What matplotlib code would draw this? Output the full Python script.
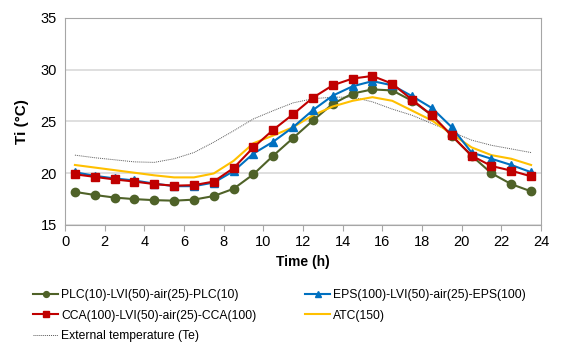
import numpy as np
from matplotlib import pyplot as plt

plt.rcParams['font.family'] = ['Liberation Sans', 'DejaVu Sans']

hours = [0.5, 1.5, 2.5, 3.5, 4.5, 5.5, 6.5, 7.5, 8.5, 9.5, 10.5, 11.5,
         12.5, 13.5, 14.5, 15.5, 16.5, 17.5, 18.5, 19.5, 20.5, 21.5, 22.5, 23.5]

plc = [18.2, 17.9, 17.65, 17.5, 17.4, 17.35, 17.45, 17.8, 18.5, 19.9, 21.7, 23.4,
       25.1, 26.7, 27.7, 28.1, 28.0, 27.0, 25.6, 23.6, 21.7, 20.0, 18.95, 18.25]
eps = [20.1, 19.75, 19.5, 19.3, 19.0, 18.75, 18.75, 19.1, 20.2, 21.9, 23.05, 24.45,
       26.1, 27.5, 28.4, 28.9, 28.5, 27.45, 26.3, 24.45, 22.0, 21.4, 20.8, 20.1]
cca = [19.9, 19.65, 19.4, 19.2, 18.95, 18.8, 18.85, 19.2, 20.5, 22.5, 24.2, 25.7,
       27.3, 28.5, 29.15, 29.4, 28.65, 27.1, 25.6, 23.65, 21.7, 20.7, 20.25, 19.7]
atc = [20.8, 20.55, 20.3, 20.05, 19.8, 19.6, 19.6, 19.98, 21.2, 22.9, 23.65, 24.45,
       25.6, 26.45, 27.0, 27.35, 27.0, 26.05, 25.1, 23.8, 22.5, 21.75, 21.4, 20.8]
te = [21.75, 21.5, 21.3, 21.1, 21.05, 21.4, 22.0, 23.0, 24.1, 25.25, 26.05, 26.8,
      27.2, 27.35, 27.35, 26.9, 26.2, 25.6, 24.8, 24.0, 23.2, 22.7, 22.35, 22.0]

fig = plt.figure(figsize=(5.69, 3.43), dpi=100)
ax = fig.add_axes([65 / 569, 1 - 225 / 343, 476 / 569, 207 / 343])

ax.plot(hours, plc, color='#4F6228', marker='o', markersize=6, lw=1.5,
        label='PLC(10)-LVI(50)-air(25)-PLC(10)', zorder=3)
ax.plot(hours, cca, color='#C00000', marker='s', markersize=6, lw=1.5,
        label='CCA(100)-LVI(50)-air(25)-CCA(100)', zorder=5)
ax.plot(hours, te, color='#595959', ls=(0, (1, 1)), lw=0.7,
        label='External temperature (Te)', zorder=2)
ax.plot(hours, eps, color='#0070C0', marker='^', markersize=6, lw=1.5,
        label='EPS(100)-LVI(50)-air(25)-EPS(100)', zorder=4)
ax.plot(hours, atc, color='#FFC000', lw=1.5, label='ATC(150)', zorder=3)

ax.set_xlim(0, 24)
ax.set_ylim(15, 35)
ax.set_xticks(np.arange(0, 25, 2))
ax.set_yticks([15, 20, 25, 30, 35])
ax.yaxis.grid(True, color='#D9D9D9', lw=1.2)
ax.set_axisbelow(True)
for s in ax.spines.values():
    s.set_color('#A6A6A6')
ax.tick_params(axis='both', labelsize=10.5, color='#A6A6A6', length=4)
ax.tick_params(axis='y', length=0, pad=6)
ax.set_xlabel('Time (h)', fontsize=10, fontweight='bold', labelpad=4)
ax.set_ylabel('Ti (°C)', fontsize=11, fontweight='bold', labelpad=8)

fig.legend(loc='lower left', bbox_to_anchor=(28 / 569, -0.012), ncol=2,
           frameon=False, fontsize=8.7, handlelength=2.1, handletextpad=0.25,
           columnspacing=4.0, labelspacing=0.72, borderaxespad=0.0, markerscale=0.7)

plt.savefig('out.png', dpi=100)
